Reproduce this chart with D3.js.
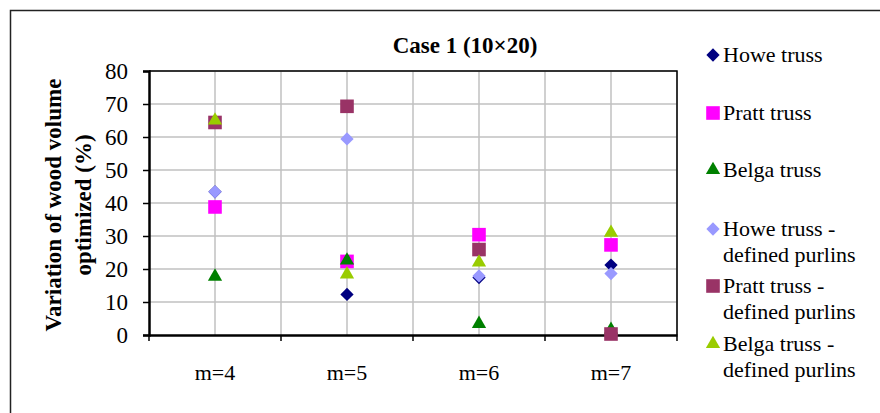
<!DOCTYPE html>
<html>
<head>
<meta charset="utf-8">
<script src="https://cdn.jsdelivr.net/npm/d3@7"></script>
<style>
  body { margin: 0; background: #fff; }
  svg { display: block; font-family: "Liberation Serif", "Times New Roman", serif; }
</style>
</head>
<body>
<div id="container"></div>
<script>
// Chart data
const categories = ["m=4", "m=5", "m=6", "m=7"];
const seriesNames = [
  "Howe truss", "Pratt truss", "Belga truss",
  "Howe truss - defined purlins", "Pratt truss - defined purlins", "Belga truss - defined purlins"
];
const howe = [43.4, 12.3, 17.4, 21.2];
const pratt = [38.8, 22.3, 30.4, 27.3];
const belga = [17.7, 22.6, 3.4, 1.6];
const howePurlins = [43.4, 59.4, 17.9, 18.6];
const prattPurlins = [64.4, 69.3, 25.9, 0.3];
const belgaPurlins = [65.0, 18.4, 22.0, 31.0];
const yTicks = [0, 10, 20, 30, 40, 50, 60, 70, 80];

const width = 880;
const height = 413;
const marginTop = 71;
const marginLeft = 149;
const plotRight = 677;
const plotBottom = 335;

const colors = ["#000080", "#ff00ff", "#008000", "#9999ff", "#993366", "#99cc00"];
const shapes = ["diamond", "square", "triangle", "diamond", "square", "triangle"];
const values = [howe, pratt, belga, howePurlins, prattPurlins, belgaPurlins];

const svg = d3.create("svg").attr("width", width).attr("height", height);

// outer frame (only top and left visible)
svg.append("path")
  .attr("d", `M10.5,${height} V10.5 H${width}`)
  .attr("fill", "none")
  .attr("stroke", "#222")
  .attr("stroke-width", 1.5);

const x = d3.scaleBand().domain(categories).range([marginLeft, plotRight]).padding(0);
const y = d3.scaleLinear().domain([0, 80]).range([plotBottom, marginTop]);

// grid
const grid = svg.append("g").attr("stroke", "#c0c0c0").attr("stroke-width", 1.5);
grid.selectAll("line.h")
  .data(yTicks.slice(1))
  .join("line")
  .attr("x1", marginLeft).attr("x2", plotRight)
  .attr("y1", d => y(d)).attr("y2", d => y(d));
const vLines = [];
categories.forEach(c => { vLines.push(x(c) + x.bandwidth() / 2); vLines.push(x(c) + x.bandwidth()); });
grid.selectAll("line.v")
  .data(vLines)
  .join("line")
  .attr("x1", d => d).attr("x2", d => d)
  .attr("y1", marginTop).attr("y2", plotBottom);

// plot border top/right
svg.append("path")
  .attr("d", `M${marginLeft},${marginTop} H${plotRight} V${plotBottom}`)
  .attr("fill", "none")
  .attr("stroke", "#000")
  .attr("stroke-width", 1.5);

// y axis
const yAxis = svg.append("g")
  .attr("transform", `translate(${marginLeft},0)`)
  .call(d3.axisLeft(y).tickValues(yTicks).tickSize(6).tickPadding(15));
yAxis.select(".domain").attr("stroke-width", 2.5);
yAxis.selectAll(".tick line").attr("stroke-width", 1.5);
yAxis.selectAll("text")
  .attr("font-family", "Liberation Serif")
  .attr("font-size", 23)
  .attr("fill", "#000");

// x axis
const xAxis = svg.append("g")
  .attr("transform", `translate(0,${plotBottom})`)
  .call(d3.axisBottom(x).tickSize(0).tickPadding(29));
xAxis.select(".domain").attr("stroke-width", 2.5);
xAxis.selectAll("text")
  .attr("font-family", "Liberation Serif")
  .attr("font-size", 22)
  .attr("fill", "#000");
svg.append("g")
  .selectAll("line")
  .data([marginLeft, ...categories.map(c => x(c) + x.bandwidth())])
  .join("line")
  .attr("x1", d => d).attr("x2", d => d)
  .attr("y1", plotBottom).attr("y2", plotBottom + 6)
  .attr("stroke", "#000")
  .attr("stroke-width", 1.5);

// markers
function symbolPath(shape) {
  if (shape === "diamond") return d3.symbol().type(d3.symbolSquare).size(88)();
  if (shape === "square") return d3.symbol().type(d3.symbolSquare).size(185)();
  return d3.symbol().type(d3.symbolTriangle).size(88)();
}
function symbolRotate(shape) {
  return shape === "diamond" ? " rotate(45)" : "";
}

values.forEach((vals, i) => {
  svg.append("g")
    .selectAll("path")
    .data(vals)
    .join("path")
    .attr("d", symbolPath(shapes[i]))
    .attr("transform", (d, j) => `translate(${x(categories[j]) + x.bandwidth() / 2},${y(d)})${symbolRotate(shapes[i])}`)
    .attr("fill", colors[i]);
});

// title
svg.append("text")
  .attr("x", 465)
  .attr("y", 53)
  .attr("text-anchor", "middle")
  .attr("font-size", 23)
  .attr("font-weight", "bold")
  .text("Case 1 (10\u00d720)");

// y label
const yLabel = svg.append("text")
  .attr("transform", "translate(61,205) rotate(-90)")
  .attr("text-anchor", "middle")
  .attr("font-size", 23)
  .attr("font-weight", "bold");
yLabel.append("tspan").attr("x", 0).attr("dy", 0).text("Variation of wood volume");
yLabel.append("tspan").attr("x", 0).attr("dy", 30).text("optimized (%)");

// legend
const legendRows = [
  { lines: ["Howe truss"], y: 55 },
  { lines: ["Pratt truss"], y: 113 },
  { lines: ["Belga truss"], y: 170 },
  { lines: ["Howe truss -", "defined purlins"], y: 229 },
  { lines: ["Pratt truss -", "defined purlins"], y: 286 },
  { lines: ["Belga truss -", "defined purlins"], y: 344 }
];
const legend = svg.append("g");
legendRows.forEach((row, i) => {
  legend.append("path")
    .attr("d", symbolPath(shapes[i]))
    .attr("transform", `translate(713,${row.y})${symbolRotate(shapes[i])}`)
    .attr("fill", colors[i]);
  const t = legend.append("text")
    .attr("x", 723)
    .attr("y", row.y + 7)
    .attr("font-size", 22);
  row.lines.forEach((ln, k) => {
    t.append("tspan").attr("x", 723).attr("dy", k === 0 ? 0 : 26).text(ln);
  });
});

document.getElementById("container").append(svg.node());
</script>
</body>
</html>
